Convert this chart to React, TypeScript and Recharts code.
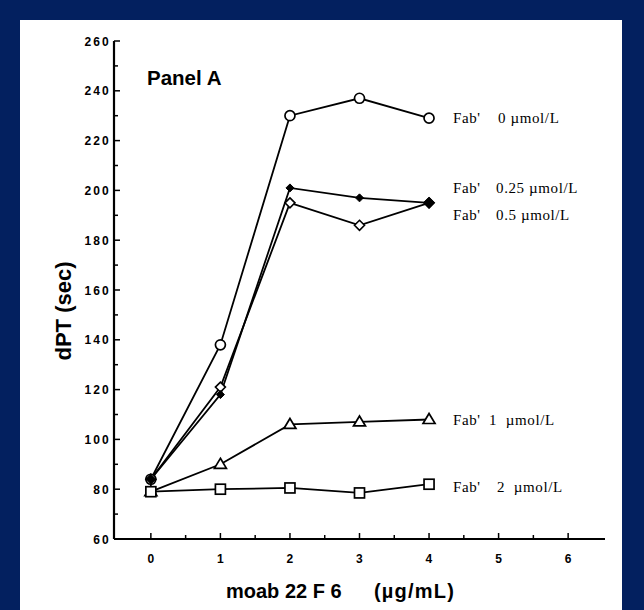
import React from "react"
import { LabelList, Line, LineChart, XAxis, YAxis } from "recharts"

// moab 22F6 concentration (µg/mL)
const doses = [0, 1, 2, 3, 4]

// dPT (sec) for each Fab' concentration
const fab0 = [84, 138, 230, 237, 229]
const fab025 = [84, 118, 201, 197, 195]
const fab05 = [84, 121, 195, 186, 195]
const fab1 = [79, 90, 106, 107, 108]
const fab2 = [79, 80, 80.5, 78.5, 82]

const xTicks = [0, 0.5, 1, 1.5, 2, 2.5, 3, 3.5, 4, 4.5, 5, 5.5, 6]
const yTicks = [60, 70, 80, 90, 100, 110, 120, 130, 140, 150, 160, 170, 180, 190, 200, 210, 220, 230, 240, 250, 260]

const data = doses.map((d, i) => ({
  dose: d,
  f0: fab0[i],
  f025: fab025[i],
  f05: fab05[i],
  f1: fab1[i],
  f2: fab2[i],
}))

const sans = "'Liberation Sans', Arial, sans-serif"
const serif = "'Liberation Serif', 'Times New Roman', serif"
const tickFont = { fontFamily: sans, fontWeight: 700, fontSize: 12, letterSpacing: 2.2 }

// ---- markers ----
const OpenCircle = (p: any) => (
  <circle key={p.index} cx={p.cx} cy={p.cy} r={5} fill="#fff" stroke="#000" strokeWidth={1.7} />
)
const SmallFilled = (p: any) => {
  const s = p.index === doses.length - 1 ? 5.5 : p.index === 0 ? 5 : 4
  return (
    <path key={p.index} d={`M${p.cx},${p.cy - s}L${p.cx + s},${p.cy}L${p.cx},${p.cy + s}L${p.cx - s},${p.cy}Z`} fill="#000" stroke="#000" strokeWidth={1} />
  )
}
const OpenDiamond = (p: any) => (
  <path key={p.index} d={`M${p.cx},${p.cy - 5}L${p.cx + 5},${p.cy}L${p.cx},${p.cy + 5}L${p.cx - 5},${p.cy}Z`} fill="#fff" stroke="#000" strokeWidth={1.6} />
)
const OpenTriangle = (p: any) => (
  <path key={p.index} d={`M${p.cx},${p.cy - 6}L${p.cx + 6},${p.cy + 4}L${p.cx - 6},${p.cy + 4}Z`} fill="#fff" stroke="#000" strokeWidth={1.7} />
)
const OpenSquare = (p: any) => (
  <rect key={p.index} x={p.cx - 5} y={p.cy - 5} width={10} height={10} fill="#fff" stroke="#000" strokeWidth={1.7} />
)

// ---- axis ticks drawn pointing into the plot ----
const BottomTick = (p: any) => {
  const v = p.payload.value
  const major = Number.isInteger(v)
  return (
    <g>
      <line x1={p.x} x2={p.x} y1={p.y} y2={p.y - (major ? 6 : 4)} stroke="#000" strokeWidth={1.5} />
      {major && (
        <text x={p.x + 1} y={p.y + 24} textAnchor="middle" {...tickFont}>
          {v}
        </text>
      )}
    </g>
  )
}
const TopTick = (p: any) => {
  const major = Number.isInteger(p.payload.value)
  return <line x1={p.x} x2={p.x} y1={p.y} y2={p.y + (major ? 6 : 4)} stroke="#000" strokeWidth={1.5} />
}
const LeftTick = (p: any) => {
  const v = p.payload.value
  const major = v % 20 === 0
  return (
    <g>
      <line x1={p.x} x2={p.x + (major ? 6 : 4)} y1={p.y} y2={p.y} stroke="#000" strokeWidth={1.5} />
      {major && (
        <text x={p.x - 3} y={p.y + 4.5} textAnchor="end" {...tickFont}>
          {v}
        </text>
      )}
    </g>
  )
}
const RightTick = (p: any) => {
  const major = p.payload.value % 20 === 0
  return <line x1={p.x} x2={p.x - (major ? 6 : 4)} y1={p.y} y2={p.y} stroke="#000" strokeWidth={1.5} />
}

// series tag written to the right of the last point
const seriesTag = (conc: string, gap: number, dy: number) => (p: any) => {
  if (p.index !== doses.length - 1) return null
  const x0 = Number(p.x) + 24
  const y0 = Number(p.y) + 4 + dy
  return (
    <text key="tag" y={y0} fontFamily={serif} fontSize={15} letterSpacing={0.6} fill="#000" style={{ whiteSpace: "pre" }}>
      <tspan x={x0}>Fab'</tspan>
      <tspan x={x0 + gap}>{conc}</tspan>
    </text>
  )
}

const axisLine = { stroke: "#000", strokeWidth: 2.2 }
const lineWidth = 1.8

export default function App() {
  return (
    <div style={{ position: "absolute", left: 0, top: 0, width: 644, height: 610, background: "#03205f", overflow: "hidden" }}>
      <div style={{ position: "absolute", left: 20, top: 20, width: 602, height: 590, background: "#fff" }} />
      <div style={{ position: "absolute", left: 0, top: 0 }}>
        <LineChart width={644} height={610} data={data} margin={{ top: 41, right: 39, bottom: 41, left: 54 }}>
          <XAxis
            dataKey="dose"
            type="number"
            domain={[-0.53, 6.53]}
            ticks={xTicks}
            interval={0}
            tickSize={0}
            tickMargin={0}
            tickLine={false}
            axisLine={axisLine}
            tick={BottomTick}
            height={30}
            allowDataOverflow
          />
          <XAxis
            xAxisId="top"
            orientation="top"
            dataKey="dose"
            type="number"
            domain={[-0.53, 6.53]}
            ticks={xTicks}
            interval={0}
            tickSize={0}
            tickMargin={0}
            tickLine={false}
            axisLine={axisLine}
            tick={TopTick}
            height={0}
            allowDataOverflow
          />
          <YAxis
            type="number"
            domain={[60, 260]}
            ticks={yTicks}
            interval={0}
            tickSize={0}
            tickMargin={0}
            tickLine={false}
            axisLine={axisLine}
            tick={LeftTick}
            width={60}
            allowDataOverflow
          />
          <YAxis
            yAxisId="right"
            orientation="right"
            type="number"
            domain={[60, 260]}
            ticks={yTicks}
            interval={0}
            tickSize={0}
            tickMargin={0}
            tickLine={false}
            axisLine={axisLine}
            tick={RightTick}
            width={0}
            allowDataOverflow
          />
          <Line dataKey="f1" stroke="#000" strokeWidth={lineWidth} dot={OpenTriangle} isAnimationActive={false}>
            <LabelList dataKey="f1" content={seriesTag("1  µmol/L", 36, 2)} />
          </Line>
          <Line dataKey="f2" stroke="#000" strokeWidth={lineWidth} dot={OpenSquare} isAnimationActive={false}>
            <LabelList dataKey="f2" content={seriesTag("2  µmol/L", 44, 4)} />
          </Line>
          <Line dataKey="f05" stroke="#000" strokeWidth={lineWidth} dot={OpenDiamond} isAnimationActive={false}>
            <LabelList dataKey="f05" content={seriesTag("0.5 µmol/L", 43, 13)} />
          </Line>
          <Line dataKey="f0" stroke="#000" strokeWidth={lineWidth} dot={OpenCircle} isAnimationActive={false}>
            <LabelList dataKey="f0" content={seriesTag("0 µmol/L", 45, 1)} />
          </Line>
          <Line dataKey="f025" stroke="#000" strokeWidth={lineWidth} dot={SmallFilled} isAnimationActive={false}>
            <LabelList dataKey="f025" content={seriesTag("0.25 µmol/L", 43, -14)} />
          </Line>
        </LineChart>
      </div>
      {/* panel tag and axis titles */}
      <svg width={644} height={610} style={{ position: "absolute", left: 0, top: 0, pointerEvents: "none" }}>
        <text x={147} y={85} fontFamily={sans} fontWeight={700} fontSize={20.5} fill="#000">
          Panel A
        </text>
        <text y={598} fontFamily={sans} fontWeight={700} fontSize={20} fill="#000">
          <tspan x={226}>moab 22 F 6</tspan>
          <tspan x={374} letterSpacing={1.2}>(µg/mL)</tspan>
        </text>
        <text
          transform="translate(71, 311) rotate(-90)"
          textAnchor="middle"
          fontFamily={sans}
          fontWeight={700}
          fontSize={22}
          fill="#000"
        >
          dPT (sec)
        </text>
      </svg>
    </div>
  )
}
